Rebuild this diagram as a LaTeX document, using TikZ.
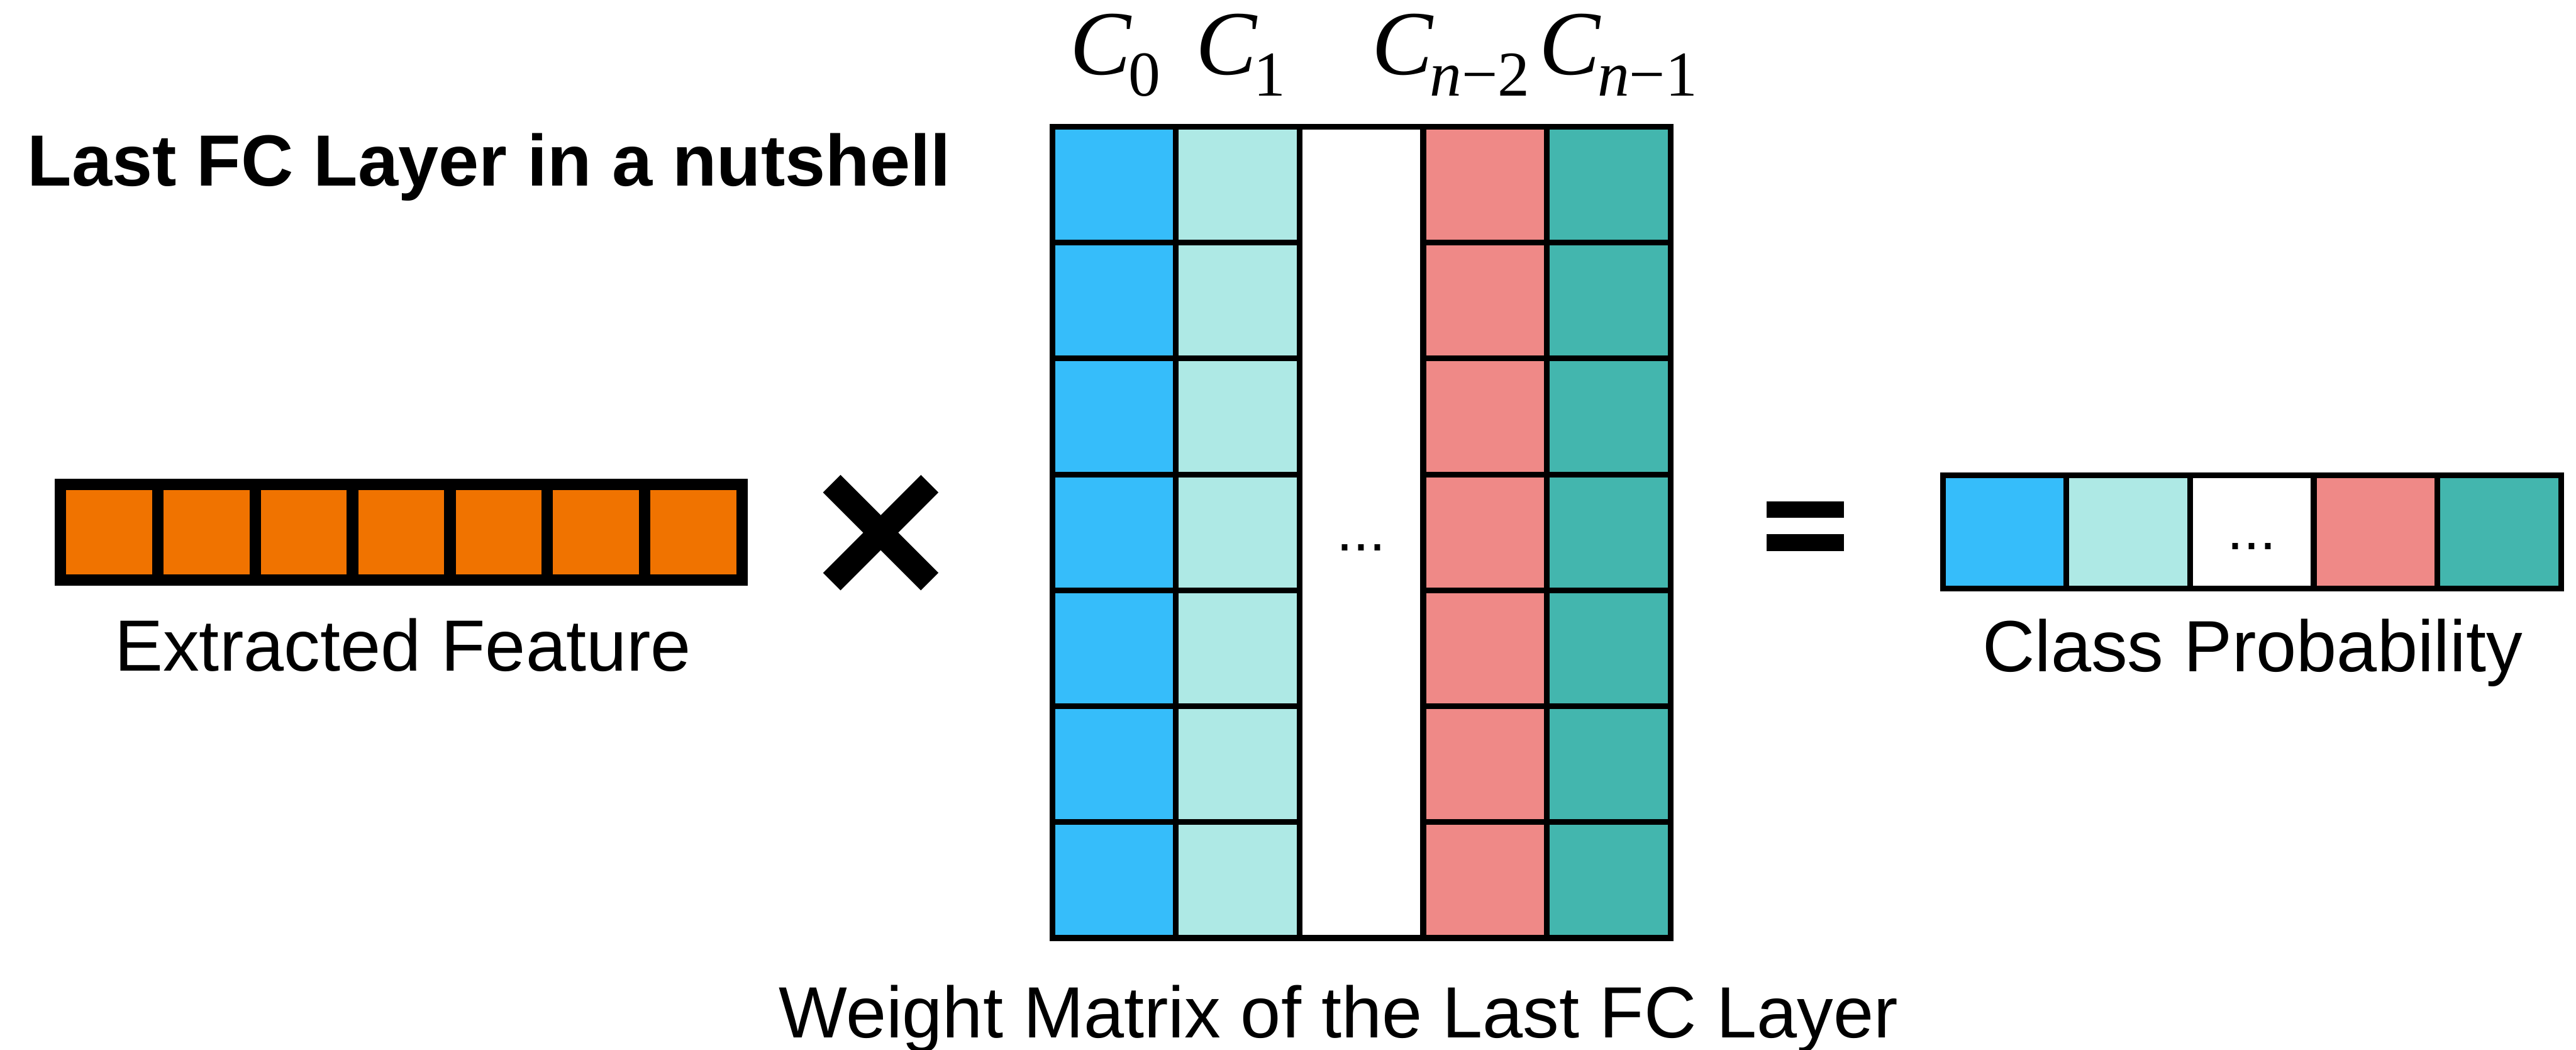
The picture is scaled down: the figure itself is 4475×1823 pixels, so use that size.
\documentclass[tikz,border=0pt]{standalone}
\usepackage{fontspec}
\setmainfont{Liberation Sans}
\newfontfamily\tms{Liberation Serif}
\definecolor{cblue}{RGB}{54,189,250}
\definecolor{clight}{RGB}{174,233,229}
\definecolor{csalmon}{RGB}{239,137,135}
\definecolor{cteal}{RGB}{67,182,174}
\definecolor{corange}{RGB}{240,115,0}
\newcommand\Clab[1]{{\tms\itshape C\kern-0.5pt\raisebox{-3.7pt}{\fontsize{11.1}{11}\selectfont #1}}}
\begin{document}
\begin{tikzpicture}[x=0.1pt,y=-0.1pt,
  lbl/.style={inner sep=0pt, anchor=base, font=\fontsize{12.6}{15}\selectfont},
  ttl/.style={inner sep=0pt, anchor=base west, font=\fontsize{12.6}{15}\selectfont\bfseries},
  clab/.style={inner sep=0pt, anchor=base west, font=\fontsize{15.9}{18}\selectfont},
  dotlbl/.style={inner sep=0pt, anchor=base, font=\fontsize{10.2}{12}\selectfont},
  thin grid/.style={line width=1pt, draw=black},
  thick grid/.style={line width=2pt, draw=black}]
\useasboundingbox (0,0) rectangle (4475,1823);
% title
\node[ttl] (title) at (46,323) {Last FC Layer in a nutshell};
% extracted feature
\fill[corange] (105,841) rectangle (1289,1007);
\foreach \k in {1,...,6} \draw[thick grid] ({105+\k*169.143},841) -- ({105+\k*169.143},1007);
\draw[thick grid] (105,841) rectangle (1289,1007);
\node[lbl] (feat) at (700,1165) {Extracted Feature};
% times sign
\draw[line width=4.3pt] (1445,840) -- (1615,1010);
\draw[line width=4.3pt] (1615,840) -- (1445,1010);
% weight matrix
\foreach \i/\c in {0/cblue,1/clight,3/csalmon,4/cteal}
  \fill[\c] ({1828+\i*214.8},220) rectangle ({1828+(\i+1)*214.8},1629);
\foreach \k in {1,...,4} \draw[thin grid] ({1828+\k*214.8},220) -- ({1828+\k*214.8},1629);
\foreach \r in {1,...,6} {
  \draw[thin grid] (1828,{220+\r*201.286}) -- (2257.6,{220+\r*201.286});
  \draw[thin grid] (2472.4,{220+\r*201.286}) -- (2902,{220+\r*201.286});
}
\draw[thin grid] (1828,220) rectangle (2902,1629);
\node[dotlbl] (mdots) at (2365,957) {...};
\node[lbl] (wm) at (2325,1802) {Weight Matrix of the Last FC Layer};
% column labels
\node[clab] (c0) at (1857,130) {\Clab{\upshape 0}};
\node[clab] (c1) at (2075,130) {\Clab{\upshape 1}};
\node[clab] (cn2) at (2381,130) {\Clab{n\upshape −2}};
\node[clab] (cn1) at (2672,130) {\Clab{n\upshape −1}};
% equals
\fill (3069,871) rectangle (3203,899);
\fill (3069,928) rectangle (3203,957);
% class probability
\foreach \i/\c in {0/cblue,1/clight,3/csalmon,4/cteal}
  \fill[\c] ({3375+\i*214.8},825) rectangle ({3375+(\i+1)*214.8},1022);
\foreach \k in {1,...,4} \draw[thin grid] ({3375+\k*214.8},825) -- ({3375+\k*214.8},1022);
\draw[thin grid] (3375,825) rectangle (4449,1022);
\node[dotlbl] (pdots) at (3912,954) {...};
\node[lbl] (cp) at (3913,1166) {Class Probability};
\end{tikzpicture}
\end{document}
